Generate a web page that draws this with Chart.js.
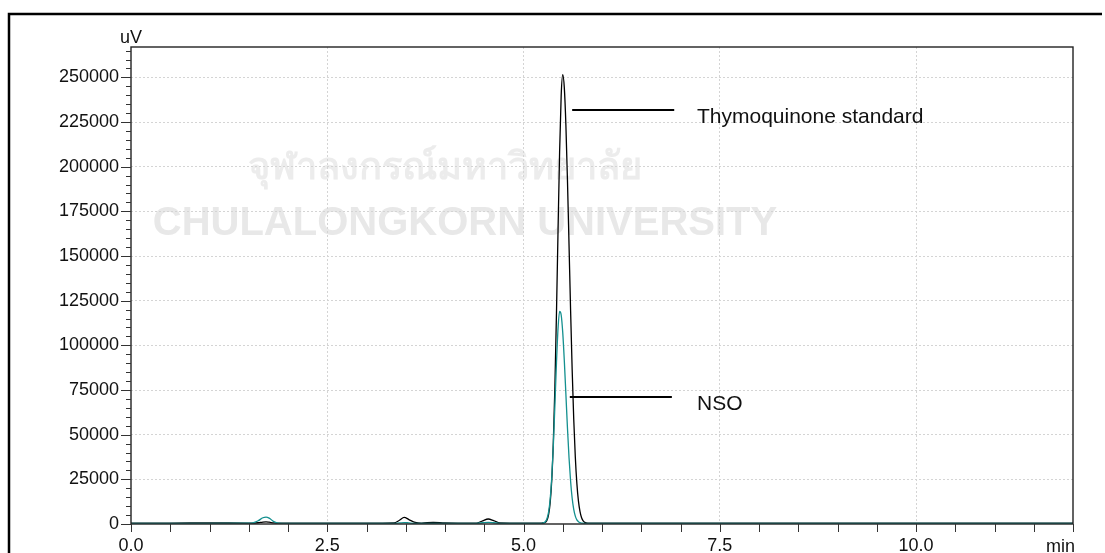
<!DOCTYPE html>
<html>
<head>
<meta charset="utf-8">
<script src="https://cdn.jsdelivr.net/npm/chart.js@4.4.1/dist/chart.umd.min.js"></script>
<style>
  html, body { margin: 0; padding: 0; background: #fff; }
  #wrap { width: 1105px; height: 553px; position: relative; }
</style>
</head>
<body>
<div id="wrap"><canvas id="chrom"></canvas></div>
<script>
// retention time (min)
var times = [0, 0.5, 1.0, 1.5, 1.55, 1.62, 1.68, 1.72, 1.76, 1.82, 1.88, 2.0, 2.5, 3.0,
  3.35, 3.42, 3.48, 3.54, 3.62, 3.7, 3.85, 4.0, 4.4, 4.48, 4.55, 4.62, 4.7, 5.0, 5.2,
  5.24, 5.26, 5.28, 5.30, 5.32, 5.34, 5.36, 5.38, 5.40, 5.42, 5.44, 5.46, 5.48, 5.50,
  5.52, 5.54, 5.56, 5.58, 5.60, 5.62, 5.64, 5.66, 5.68, 5.70, 5.72, 5.74, 5.76, 5.78,
  5.80, 5.85, 5.9, 6.0, 7.0, 8.0, 9.0, 10.0, 11.0, 12.0];

// Thymoquinone standard (uV)
var standard = [500, 500, 600, 500, 500, 700, 1100, 1200, 1000, 600, 500, 500, 500, 500,
  600, 2100, 3700, 2500, 900, 500, 900, 600, 500, 1800, 2800, 1900, 600, 500, 500,
  550, 600, 900, 2200, 5400, 12100, 24700, 45800, 77000, 118000, 164300, 208200, 239900, 251500,
  244100, 223300, 192400, 156200, 119500, 86200, 58600, 37500, 22600, 12800, 6900, 3500, 1700, 900,
  600, 500, 500, 500, 500, 500, 500, 500, 500, 500];

// NSO (uV)
var nso = [400, 400, 400, 450, 600, 1800, 3500, 3900, 3300, 1300, 500, 400, 400, 400,
  400, 600, 800, 600, 400, 400, 400, 400, 400, 700, 900, 700, 400, 400, 400,
  500, 750, 1400, 3100, 6800, 14000, 26200, 44000, 66600, 90200, 109500, 119000, 117000, 107100,
  91300, 72600, 53700, 37100, 23900, 14400, 8200, 4400, 2300, 1300, 800, 550, 450, 400,
  400, 400, 400, 400, 400, 400, 400, 400, 400, 400];

var yTicks = [0, 25000, 50000, 75000, 100000, 125000, 150000, 175000, 200000, 225000, 250000];
var xTicks = [0, 2.5, 5.0, 7.5, 10.0];

// peak labels: text, y of the leader line, leader start/end (min), text start (min)
var labelText = ["Thymoquinone standard", "NSO"];
var labelY = [231500, 71200];
var lineFrom = [5.62, 5.59];
var lineTo = [6.92, 6.89];
var textAt = 7.21;

var FONT = "'Liberation Sans', Arial, sans-serif";

function toPoints(vals) {
  return times.map(function (t, i) { return { x: t, y: vals[i] }; });
}

var decor = {
  id: "decor",
  beforeDraw: function (chart) {
    var c = chart.ctx;
    c.save();
    // faint watermark
    c.fillStyle = "#ececec";
    c.textAlign = "center";
    c.textBaseline = "middle";
    c.font = "bold 38px 'Noto Sans', 'DejaVu Sans', sans-serif";
    c.fillText("จุฬาลงกรณ์มหาวิทยาลัย", 445, 168);
    c.fillStyle = "#e8e8e8";
    c.font = "bold 40px 'Liberation Sans Narrow', 'Liberation Sans', Arial, sans-serif";
    c.fillText("CHULALONGKORN UNIVERSITY", 465, 224);
    c.restore();
  },
  afterDraw: function (chart) {
    var c = chart.ctx, a = chart.chartArea;
    var xs = chart.scales.x, ys = chart.scales.y;
    c.save();
    // outer frame
    c.strokeStyle = "#000";
    c.lineWidth = 2.5;
    c.beginPath();
    c.moveTo(9, 553); c.lineTo(9, 14); c.lineTo(1102, 14);
    c.stroke();
    // plot frame
    c.lineWidth = 1.4;
    c.strokeStyle = "#222";
    c.strokeRect(a.left, a.top, a.right - a.left, a.bottom - a.top);
    // y tick marks: major every 25000, minor every 5000
    c.lineWidth = 1;
    c.strokeStyle = "#333";
    c.beginPath();
    for (var v = 0; v <= ys.max; v += 5000) {
      var py = Math.round(ys.getPixelForValue(v)) + 0.5;
      var len = (v % 25000 === 0) ? 10 : 5;
      c.moveTo(a.left - len, py); c.lineTo(a.left, py);
    }
    // x tick marks every 0.5 min
    for (var t = 0; t <= xs.max + 0.001; t += 0.5) {
      var px = Math.round(xs.getPixelForValue(t)) + 0.5;
      c.moveTo(px, a.bottom); c.lineTo(px, a.bottom + 8);
    }
    c.stroke();
    // axis titles
    c.fillStyle = "#111";
    c.font = "18px " + FONT;
    c.textBaseline = "alphabetic";
    c.textAlign = "left";
    c.fillText("uV", a.left - 11, 43);
    c.textAlign = "right";
    c.fillText("min", a.right + 2, 552);
    // peak labels
    c.lineWidth = 2;
    c.strokeStyle = "#000";
    c.font = "21px " + FONT;
    c.textAlign = "left";
    c.textBaseline = "middle";
    for (var i = 0; i < labelText.length; i++) {
      var ly = Math.round(ys.getPixelForValue(labelY[i]));
      c.beginPath();
      c.moveTo(xs.getPixelForValue(lineFrom[i]), ly);
      c.lineTo(xs.getPixelForValue(lineTo[i]), ly);
      c.stroke();
      c.fillText(labelText[i], xs.getPixelForValue(textAt), ly + 7);
    }
    c.restore();
  }
};

var ctx = document.getElementById("chrom").getContext("2d");
var chart = new Chart(ctx, {
  type: "line",
  data: {
    datasets: [
      {
        label: "Thymoquinone standard",
        data: toPoints(standard),
        borderColor: "#000000",
        borderWidth: 1.3,
        pointRadius: 0,
        cubicInterpolationMode: "monotone",
        order: 2
      },
      {
        label: "NSO",
        data: toPoints(nso),
        borderColor: "#14908f",
        borderWidth: 1.3,
        pointRadius: 0,
        cubicInterpolationMode: "monotone",
        order: 1
      }
    ]
  },
  options: {
    responsive: true,
    maintainAspectRatio: false,
    animation: false,
    events: [],
    layout: { padding: { top: 47, right: 32, left: 0, bottom: 0 } },
    plugins: { legend: { display: false }, tooltip: { enabled: false } },
    scales: {
      x: {
        type: "linear",
        min: 0,
        max: 12,
        afterBuildTicks: function (s) { s.ticks = xTicks.map(function (v) { return { value: v }; }); },
        afterFit: function (s) { s.height = 29; },
        ticks: {
          color: "#111",
          font: { family: FONT, size: 18 },
          padding: 11,
          maxRotation: 0,
          callback: function (v) { return v.toFixed(1); }
        },
        grid: {
          drawTicks: false,
          color: function (c) { return c.tick && c.tick.value > 0 ? "#d4d4d4" : "rgba(0,0,0,0)"; },
          lineWidth: 1
        },
        border: { display: false, dash: [2, 2] }
      },
      y: {
        min: 0,
        max: 267000,
        afterBuildTicks: function (s) { s.ticks = yTicks.map(function (v) { return { value: v }; }); },
        afterFit: function (s) { s.width = 131; },
        ticks: {
          color: "#111",
          font: { family: FONT, size: 18 },
          padding: 12,
          callback: function (v) { return String(v); }
        },
        grid: {
          drawTicks: false,
          color: function (c) { return c.tick && c.tick.value > 0 ? "#d4d4d4" : "rgba(0,0,0,0)"; },
          lineWidth: 1
        },
        border: { display: false, dash: [2, 2] }
      }
    }
  },
  plugins: [decor]
});
</script>
</body>
</html>
